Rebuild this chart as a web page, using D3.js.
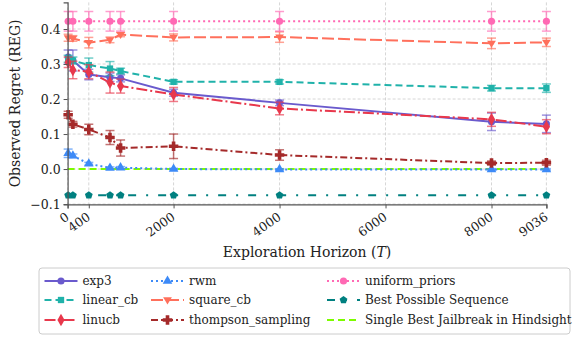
<!DOCTYPE html>
<meta charset="utf-8">
<style>
    body {
        margin: 0;
        padding: 0;
        background: #fff;
        font-family: "DejaVu Serif", serif;
    }

    svg {
        display: block;
    }

    .grid line {
        stroke: #cccccc;
        stroke-dasharray: 3, 2;
        stroke-width: 0.8;
    }

    .axis path,
    .axis line {
        stroke: #555;
    }

    .axis text {
        fill: #222;
        font-size: 12.5px;
        font-family: "DejaVu Serif", serif;
    }
</style>
<svg width="572" height="338"></svg>
<script src="https://d3js.org/d3.v7.min.js"></script>
<script>
    // horizons (x) shared by all methods
    var horizons = [10, 100, 400, 800, 1000, 2000, 4000, 8000, 9036];

    var exp3 = [0.32, 0.31, 0.27, 0.262, 0.259, 0.218, 0.189, 0.135, 0.129];
    var exp3Err = [0.02, 0.03, 0.015, 0.012, 0.01, 0.01, 0.008, 0.025, 0.025];

    var linearCb = [0.315, 0.31, 0.297, 0.287, 0.28, 0.249, 0.249, 0.231, 0.231];
    var linearCbErr = [0.01, 0.01, 0.02, 0.02, 0.008, 0.006, 0.006, 0.008, 0.012];

    var linucb = [0.305, 0.283, 0.278, 0.247, 0.237, 0.213, 0.173, 0.142, 0.121];
    var linucbErr = [0.015, 0.025, 0.02, 0.03, 0.02, 0.02, 0.018, 0.02, 0.02];

    var rwm = [0.045, 0.038, 0.015, 0.003, 0.004, 0.0, -0.001, -0.001, -0.001];
    var rwmErr = [0.012, 0.005, 0.004, 0.003, 0.003, 0.002, 0.002, 0.002, 0.002];

    var squareCb = [0.375, 0.373, 0.361, 0.369, 0.384, 0.376, 0.377, 0.359, 0.362];
    var squareCbErr = [0.01, 0.008, 0.015, 0.008, 0.006, 0.01, 0.015, 0.015, 0.012];

    var thompson = [0.155, 0.128, 0.113, 0.09, 0.06, 0.065, 0.04, 0.017, 0.018];
    var thompsonErr = [0.01, 0.008, 0.015, 0.02, 0.023, 0.035, 0.015, 0.006, 0.007];

    var uniformPriors = [0.422, 0.422, 0.422, 0.422, 0.422, 0.422, 0.422, 0.422, 0.422];
    var uniformPriorsErr = [0.028, 0.028, 0.028, 0.028, 0.028, 0.028, 0.028, 0.028, 0.028];

    var bestSequence = [-0.075, -0.075, -0.075, -0.075, -0.075, -0.075, -0.075, -0.075, -0.075];

    var singleBestX = [0, 9036];
    var singleBest = [0, 0];

    var xTicks = [0, 400, 2000, 4000, 6000, 8000, 9036];
    var yTicks = [-0.1, 0.0, 0.1, 0.2, 0.3, 0.4];

    var pentagon = {
        draw: function(ctx, size) {
            var r = Math.sqrt(size / 2.4);
            for (var i = 0; i < 5; i++) {
                var a = -Math.PI / 2 + i * 2 * Math.PI / 5;
                if (i == 0) ctx.moveTo(r * Math.cos(a), r * Math.sin(a));
                else ctx.lineTo(r * Math.cos(a), r * Math.sin(a));
            }
            ctx.closePath();
        }
    };
    var triDown = {
        draw: function(ctx, size) {
            var s = Math.sqrt(size) * 0.8;
            ctx.moveTo(-s, -s * 0.6);
            ctx.lineTo(s, -s * 0.6);
            ctx.lineTo(0, s);
            ctx.closePath();
        }
    };
    var plusFilled = {
        draw: function(ctx, size) {
            var a = Math.sqrt(size) * 0.75, b = a * 0.38;
            ctx.moveTo(-b, -a); ctx.lineTo(b, -a); ctx.lineTo(b, -b); ctx.lineTo(a, -b);
            ctx.lineTo(a, b); ctx.lineTo(b, b); ctx.lineTo(b, a); ctx.lineTo(-b, a);
            ctx.lineTo(-b, b); ctx.lineTo(-a, b); ctx.lineTo(-a, -b); ctx.lineTo(-b, -b);
            ctx.closePath();
        }
    };

    var series = [
        { name: "exp3", x: horizons, y: exp3, err: exp3Err, color: "#6a5acd", dash: null, symbol: d3.symbolCircle, size: 40 },
        { name: "linear_cb", x: horizons, y: linearCb, err: linearCbErr, color: "#20b2aa", dash: "7,4", symbol: d3.symbolSquare, size: 40 },
        { name: "linucb", x: horizons, y: linucb, err: linucbErr, color: "#e8384c", dash: "11,3,2,3", symbol: d3.symbolDiamond, size: 45 },
        { name: "rwm", x: horizons, y: rwm, err: rwmErr, color: "#3d8af7", dash: "2,3", symbol: d3.symbolTriangle, size: 40 },
        { name: "square_cb", x: horizons, y: squareCb, err: squareCbErr, color: "#ff705c", dash: "12,4", symbol: triDown, size: 30 },
        { name: "thompson_sampling", x: horizons, y: thompson, err: thompsonErr, color: "#a52a2a", dash: "7,3,2,3", symbol: plusFilled, size: 40 },
        { name: "uniform_priors", x: horizons, y: uniformPriors, err: uniformPriorsErr, color: "#ff69b4", dash: "2,3", symbol: d3.symbolCircle, size: 40 },
        { name: "Best Possible Sequence", x: horizons, y: bestSequence, err: null, color: "#008080", dash: "8,10,2,10", symbol: pentagon, size: 40 },
        { name: "Single Best Jailbreak in Hindsight", x: singleBestX, y: singleBest, err: null, color: "#7cfc00", dash: "7,4", symbol: null, size: 0 }
    ];

    var svg = d3.select("svg");
    var pLeft = 67.6, pRight = 546.4, pTop = 2.4, pBottom = 204.4;

    var x = d3.scaleLinear().domain([0, 9036]).range([pLeft, pRight]);
    var y = d3.scaleLinear().domain([-0.101, 0.476]).range([pBottom, pTop]);

    // grid
    var grid = svg.append("g").attr("class", "grid");
    grid.selectAll("line.v").data(xTicks).enter().append("line")
        .attr("x1", d => x(d)).attr("x2", d => x(d))
        .attr("y1", pTop).attr("y2", pBottom);
    grid.selectAll("line.h").data(yTicks).enter().append("line")
        .attr("x1", pLeft).attr("x2", pRight)
        .attr("y1", d => y(d)).attr("y2", d => y(d));

    var plot = svg.append("g");

    var line = d3.line()
        .x(d => x(d[0]))
        .y(d => y(d[1]));

    // draw series in order so later ones lie on top
    var drawOrder = [8, 0, 1, 2, 3, 4, 5, 6, 7];
    drawOrder.forEach(function(k) {
        var s = series[k];
        var pts = s.x.map((v, i) => [v, s.y[i], s.err ? s.err[i] : 0]);
        var g = plot.append("g");

        if (s.err) {
            pts.forEach(function(p) {
                if (p[2] <= 0) return;
                var cx = x(p[0]), y0 = y(p[1] - p[2]), y1 = y(p[1] + p[2]);
                g.append("line").attr("x1", cx).attr("x2", cx).attr("y1", y0).attr("y2", y1)
                    .attr("stroke", s.color).attr("stroke-opacity", 0.65).attr("stroke-width", 1.5);
                [y0, y1].forEach(function(yy) {
                    g.append("line").attr("x1", cx - 4.5).attr("x2", cx + 4.5).attr("y1", yy).attr("y2", yy)
                        .attr("stroke", s.color).attr("stroke-opacity", 0.65).attr("stroke-width", 1.5);
                });
            });
        }

        g.append("path")
            .datum(pts)
            .attr("d", line)
            .attr("fill", "none")
            .attr("stroke", s.color)
            .attr("stroke-width", 2)
            .attr("stroke-dasharray", s.dash);

        if (s.symbol) {
            g.selectAll("path.m").data(pts).enter().append("path")
                .attr("class", "m")
                .attr("transform", d => "translate(" + x(d[0]) + "," + y(d[1]) + ")")
                .attr("d", d3.symbol().type(s.symbol).size(s.size))
                .attr("fill", s.color);
        }
    });

    // axes
    var xAxis = svg.append("g").attr("class", "axis")
        .attr("transform", "translate(0," + pBottom + ")")
        .call(d3.axisBottom(x).tickValues(xTicks).tickFormat(d3.format("d")).tickSizeOuter(0).tickSize(4));
    xAxis.selectAll("text")
        .attr("text-anchor", "end")
        .attr("x", 0)
        .attr("y", 0)
        .attr("dy", "0")
        .attr("transform", "translate(2,14.5) rotate(-35)");
    xAxis.select("path").attr("stroke-width", 1.2);

    var yAxis = svg.append("g").attr("class", "axis")
        .attr("transform", "translate(" + pLeft + ",0)")
        .call(d3.axisLeft(y).tickValues(yTicks).tickFormat(d => d3.format(".1f")(d).replace("-", "\u2212")).tickSizeOuter(0).tickSize(4));
    yAxis.select("path").attr("stroke-width", 1.2);

    svg.append("text")
        .attr("transform", "translate(20," + ((pTop + pBottom) / 2) + ") rotate(-90)")
        .attr("text-anchor", "middle")
        .attr("font-size", 14)
        .attr("fill", "#222")
        .text("Observed Regret (REG)");

    var xl = svg.append("text")
        .attr("x", (pLeft + pRight) / 2)
        .attr("y", 257)
        .attr("text-anchor", "middle")
        .attr("font-size", 14)
        .attr("fill", "#222");
    xl.append("tspan").text("Exploration Horizon (");
    xl.append("tspan").attr("font-style", "italic").text("T");
    xl.append("tspan").text(")");

    // legend
    var legend = svg.append("g");
    legend.append("rect")
        .attr("x", 39).attr("y", 268).attr("width", 531).attr("height", 66)
        .attr("rx", 3)
        .attr("fill", "#fff").attr("fill-opacity", 0.8)
        .attr("stroke", "#ccc");

    var colX = [44.5, 151, 327];
    var rowY = [281, 300, 320];
    series.forEach(function(s, i) {
        var c = Math.floor(i / 3), r = i % 3;
        var lg = legend.append("g").attr("transform", "translate(" + colX[c] + "," + rowY[r] + ")");
        lg.append("line").attr("x1", 0).attr("x2", 33).attr("y1", 0).attr("y2", 0)
            .attr("stroke", s.color).attr("stroke-width", 2).attr("stroke-dasharray", s.dash);
        if (s.symbol) {
            lg.append("path").attr("transform", "translate(16.5,0)")
                .attr("d", d3.symbol().type(s.symbol).size(s.size))
                .attr("fill", s.color);
        }
        lg.append("text").attr("x", 38).attr("y", 0).attr("dy", "0.35em")
            .attr("font-size", 12).attr("fill", "#222")
            .text(s.name);
    });
</script>
